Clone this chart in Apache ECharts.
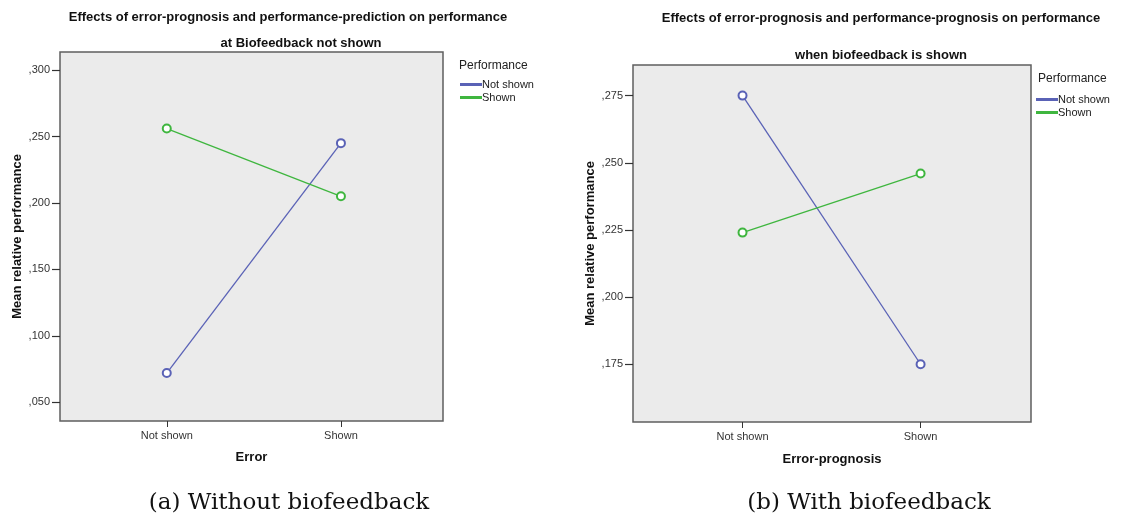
<!DOCTYPE html>
<html>
<head>
<meta charset="utf-8">
<script src="https://cdn.jsdelivr.net/npm/echarts@6/dist/echarts.min.js"></script>
<style>
  html, body { margin: 0; padding: 0; background: #ffffff; }
  #chart { width: 1146px; height: 521px; }
</style>
</head>
<body>
<div id="chart"></div>
<script>
// Factor levels on the x axis and the two performance groups
const categories = ['Not shown', 'Shown'];
const groups = ['Not shown', 'Shown'];

// (a) Without biofeedback: mean relative performance per error level
const noBioNotShown = [0.072, 0.245];
const noBioShown = [0.256, 0.205];

// (b) With biofeedback: mean relative performance per error-prognosis level
const bioNotShown = [0.275, 0.175];
const bioShown = [0.224, 0.246];

// Tick values of the value axes
const ticksA = [0.05, 0.10, 0.15, 0.20, 0.25, 0.30];
const ticksB = [0.175, 0.200, 0.225, 0.250, 0.275];

const BLUE = '#5a62b6';
const GREEN = '#3fb63f';
const SANS = 'Liberation Sans, Arial, sans-serif';
const SERIF = 'DejaVu Serif, Liberation Serif, serif';

// SPSS-style decimal comma: 0.300 -> ",300"
const fmtY = v => v.toFixed(3).replace(/^0\./, ',');
const fmtX = v => categories[Math.round(v)] || '';
const pts = arr => arr.map((v, i) => [i, v]);

function xAxisFor(gridIndex, min, max, name, nameGap) {
  return {
    type: 'value', gridIndex, min, max,
    name, nameLocation: 'middle', nameGap,
    nameTextStyle: { fontFamily: SANS, fontWeight: 'bold', fontSize: 13, color: '#111' },
    axisLine: { show: false, onZero: false },
    splitLine: { show: false },
    axisTick: { show: true, length: 6, lineStyle: { color: '#333', width: 1 }, customValues: [0, 1] },
    axisLabel: { show: true, margin: 9, fontFamily: SANS, fontSize: 11, color: '#333',
                 customValues: [0, 1], formatter: fmtX }
  };
}

function yAxisFor(gridIndex, min, max, ticks, name) {
  return {
    type: 'value', gridIndex, min, max,
    name, nameLocation: 'middle', nameGap: 36, nameRotate: 90,
    nameTextStyle: { fontFamily: SANS, fontWeight: 'bold', fontSize: 13, color: '#111' },
    axisLine: { show: false, onZero: false },
    splitLine: { show: false },
    axisTick: { show: true, length: 8, lineStyle: { color: '#333', width: 1.2 }, customValues: ticks },
    axisLabel: { show: true, margin: 10, fontFamily: SANS, fontSize: 11, color: '#333',
                 customValues: ticks, formatter: fmtY }
  };
}

function lineSeries(name, color, data, xi, yi) {
  return {
    type: 'line', name, data: pts(data),
    xAxisIndex: xi, yAxisIndex: yi,
    symbol: 'emptyCircle', symbolSize: 8,
    lineStyle: { color, width: 1.3 },
    itemStyle: { color, borderColor: color, borderWidth: 1.2 },
    emphasis: { disabled: true },
    animation: false
  };
}

const titleStyle = { fontFamily: SANS, fontWeight: 'bold', fontSize: 13, color: '#111' };
const legendHeadStyle = { fontFamily: SANS, fontWeight: 'normal', fontSize: 12, color: '#222' };
const captionStyle = { fontFamily: SERIF, fontWeight: 'normal', fontSize: 23, color: '#111' };
const legendText = { fontFamily: SANS, fontSize: 11, color: '#222', padding: [0, 0, 0, -4] };

const option = {
  backgroundColor: '#ffffff',
  animation: false,
  title: [
    { text: 'Effects of error-prognosis and performance-prediction on performance', left: 283, top: 6, textAlign: 'center', textStyle: titleStyle },
    { text: 'at Biofeedback not shown', left: 296, top: 32, textAlign: 'center', textStyle: titleStyle },
    { text: 'Effects of error-prognosis and performance-prognosis on performance', left: 876, top: 7, textAlign: 'center', textStyle: titleStyle },
    { text: 'when biofeedback is shown', left: 876, top: 44, textAlign: 'center', textStyle: titleStyle },
    { text: 'Performance', left: 454, top: 55, textStyle: legendHeadStyle },
    { text: 'Performance', left: 1033, top: 68, textStyle: legendHeadStyle },
    { text: '(a) Without biofeedback', left: 284, top: 487, textAlign: 'center', textStyle: captionStyle },
    { text: '(b) With biofeedback', left: 864, top: 487, textAlign: 'center', textStyle: captionStyle }
  ],
  legend: [
    { data: groups, orient: 'vertical', left: 455, top: 74, itemGap: 2, itemWidth: 20, itemHeight: 1,
      icon: 'rect', textStyle: legendText, selectedMode: false },
    { data: groups, orient: 'vertical', left: 1031, top: 89, itemGap: 2, itemWidth: 20, itemHeight: 1,
      icon: 'rect', textStyle: legendText, selectedMode: false }
  ],
  grid: [
    { left: 60, top: 52, width: 383, height: 369, show: true, backgroundColor: '#ebebeb', borderColor: '#5f5f5f', borderWidth: 1.5 },
    { left: 633, top: 65, width: 398, height: 357, show: true, backgroundColor: '#ebebeb', borderColor: '#5f5f5f', borderWidth: 1.5 }
  ],
  xAxis: [
    xAxisFor(0, -0.613, 1.586, 'Error', 30),
    xAxisFor(1, -0.615, 1.62, 'Error-prognosis', 31)
  ],
  yAxis: [
    yAxisFor(0, 0.0359, 0.3136, ticksA, 'Mean relative performance'),
    yAxisFor(1, 0.1535, 0.2864, ticksB, 'Mean relative performance')
  ],
  series: [
    lineSeries(groups[0], BLUE, noBioNotShown, 0, 0),
    lineSeries(groups[1], GREEN, noBioShown, 0, 0),
    lineSeries(groups[0], BLUE, bioNotShown, 1, 1),
    lineSeries(groups[1], GREEN, bioShown, 1, 1)
  ]
};

const chart = echarts.init(document.getElementById('chart'), null, { renderer: 'canvas' });
chart.setOption(option);
</script>
</body>
</html>
